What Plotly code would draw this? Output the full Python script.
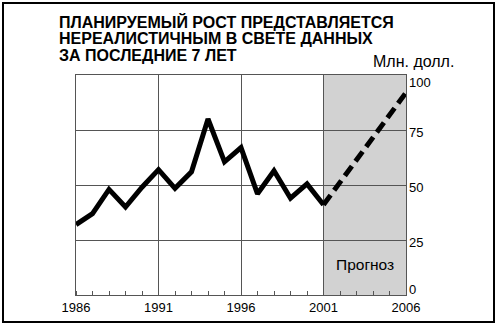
import plotly.graph_objects as go

years = list(range(1986, 2002))
values = [32, 37, 48, 40, 49, 57, 48.5, 56, 80, 60.5, 67, 46, 56.5, 44, 50.5, 41]
forecast_years = [2001, 2006]
forecast_values = [41, 92]
x_ticks = [1986, 1991, 1996, 2001, 2006]
y_ticks = [0, 25, 50, 75, 100]
title_lines = ["ПЛАНИРУЕМЫЙ РОСТ ПРЕДСТАВЛЯЕТСЯ", "НЕРЕАЛИСТИЧНЫМ В СВЕТЕ ДАННЫХ", "ЗА ПОСЛЕДНИЕ 7 ЛЕТ"]
unit_label = "Млн. долл."
forecast_label = "Прогноз"

W, H = 498, 327
L, R, T, B = 76, 92, 75, 32
pw, ph = W - L - R, H - T - B

def px(x):
    return (x - L) / pw

def py(y):
    return (H - B - y) / ph

FONT = "Liberation Sans, Arial, sans-serif"

fig = go.Figure()
fig.add_trace(go.Scatter(x=years, y=values, mode="lines",
                         line=dict(color="black", width=5), showlegend=False))
fig.add_trace(go.Scatter(x=forecast_years, y=forecast_values, mode="lines",
                         line=dict(color="black", width=5, dash="12px,6px"), showlegend=False))

fig.add_shape(type="rect", x0=2001, x1=2006, y0=0, y1=100, xref="x", yref="y",
              fillcolor="#d2d2d2", line=dict(width=0), layer="below")
# outer frame
fig.add_shape(type="rect", x0=px(3), x1=px(494), y0=py(3), y1=py(322), xref="paper", yref="paper",
              line=dict(color="black", width=2), fillcolor="rgba(0,0,0,0)")

fig.update_xaxes(range=[1986, 2006], tickvals=x_ticks, showgrid=True, gridcolor="#555555", gridwidth=1,
                 showline=True, linecolor="#555555", linewidth=1, mirror=True, zeroline=False,
                 ticks="", tickfont=dict(family=FONT, size=13, color="black"),
                 minor=dict(dtick=1, ticks="inside", ticklen=4, tickcolor="#555555", showgrid=False))
fig.update_yaxes(range=[0, 100], tickvals=y_ticks, side="right", showgrid=True, gridcolor="#555555",
                 gridwidth=1, showline=True, linecolor="#555555", linewidth=1, mirror=True, zeroline=False,
                 ticks="", showticklabels=False)

# y tick labels (placed as in the reference, ends pulled inward)
for v in y_ticks:
    shift = 6 if v == 0 else (-7 if v == 100 else -2)
    fig.add_annotation(text=str(v), xref="paper", yref="y", x=1, y=v, xanchor="left", yanchor="middle",
                       xshift=1, yshift=shift, showarrow=False,
                       font=dict(family=FONT, size=13, color="black"))

for i, line in enumerate(title_lines):
    fig.add_annotation(text="<b>" + line + "</b>", xref="paper", yref="paper", x=px(57), y=py(11 + 17 * i),
                       xanchor="left", yanchor="top", showarrow=False,
                       font=dict(family=FONT, size=16, color="black"))
fig.add_annotation(text=unit_label, xref="paper", yref="paper", x=px(456), y=py(72),
                   xanchor="right", yanchor="bottom", showarrow=False,
                   font=dict(family=FONT, size=16, color="black"))
fig.add_annotation(text=forecast_label, x=2003.5, y=14, xref="x", yref="y", showarrow=False,
                   font=dict(family=FONT, size=15.5, color="black"))

fig.update_layout(width=W, height=H, margin=dict(l=L, r=R, t=T, b=B),
                  plot_bgcolor="white", paper_bgcolor="white")
fig.write_html("out.html")
